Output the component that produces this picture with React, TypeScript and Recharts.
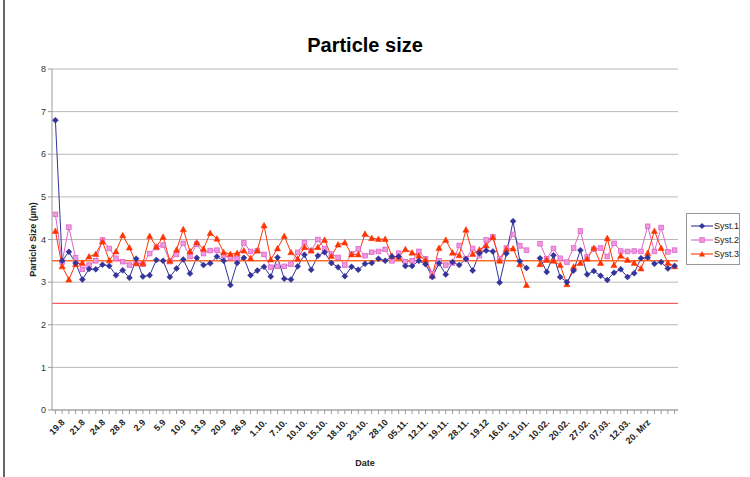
import React from "react";
import {
  LineChart,
  Line,
  XAxis,
  YAxis,
  CartesianGrid,
  ReferenceLine,
} from "recharts";

// labelled dates (every third measurement)
const dateLabels = [
  "19.8", "21.8", "24.8", "28.8", "2.9", "5.9", "10.9", "13.9", "20.9", "26.9",
  "1.10.", "7.10.", "10.10.", "15.10.", "18.10.", "23.10.", "28.10", "05.11.", "12.11.", "19.11.",
  "28.11.", "19.12", "16.01.", "31.01.", "10.02.", "20.02.", "27.02.", "07.03.", "12.03.", "20. Mrz",
];

const syst1 = [
  6.8, 3.5, 3.71, 3.45, 3.06, 3.31, 3.3, 3.41, 3.38, 3.16, 3.28, 3.1, 3.55, 3.13, 3.16, 3.52,
  3.5, 3.12, 3.32, 3.53, 3.2, 3.57, 3.4, 3.44, 3.6, 3.5, 2.93, 3.45, 3.57, 3.16, 3.27, 3.36,
  3.13, 3.58, 3.08, 3.06, 3.37, 3.64, 3.29, 3.62, 3.7, 3.45, 3.35, 3.14, 3.36, 3.29, 3.43, 3.45,
  3.55, 3.5, 3.6, 3.6, 3.38, 3.38, 3.5, 3.42, 3.12, 3.44, 3.18, 3.47, 3.4, 3.54, 3.27, 3.68,
  3.74, 3.72, 2.99, 3.67, 4.43, 3.49, 3.33, null, 3.56, 3.24, 3.63, 3.12, 3.0, 3.27, 3.75, 3.18,
  3.26, 3.15, 3.05, 3.22, 3.3, 3.12, 3.21, 3.56, 3.58, 3.43, 3.47, 3.32, 3.38,
];

const syst2 = [
  4.59, 3.47, 4.29, 3.57, 3.3, 3.4, 3.5, 3.99, 3.79, 3.56, 3.48, 3.4, 3.44, 3.42, 3.67, 3.81,
  3.87, 3.48, 3.65, 3.91, 3.6, 3.89, 3.67, 3.74, 3.75, 3.62, 3.58, 3.55, 3.92, 3.72, 3.74, 3.65,
  3.35, 3.37, 3.37, 3.42, 3.7, 3.93, 3.74, 4.0, 3.78, 3.66, 3.58, 3.4, 3.66, 3.78, 3.62, 3.7,
  3.72, 3.77, 3.5, 3.68, 3.48, 3.5, 3.72, 3.55, 3.2, 3.5, 3.4, 3.45, 3.86, 3.55, 3.79, 3.62,
  3.99, 4.06, 3.55, 3.8, 4.12, 3.85, 3.75, null, 3.9, 3.55, 3.79, 3.56, 3.47, 3.8, 4.2, 3.59,
  3.77, 3.8, 3.6, 3.91, 3.73, 3.72, 3.73, 3.72, 4.31, 3.72, 4.28, 3.71, 3.75,
];

const syst3 = [
  4.2, 3.37, 3.06, 3.42, 3.45, 3.6, 3.66, 3.95, 3.51, 3.72, 4.1, 3.81, 3.44, 3.44, 4.08, 3.83,
  4.06, 3.5, 3.76, 4.24, 3.72, 3.93, 3.78, 4.15, 4.02, 3.7, 3.66, 3.68, 3.74, 3.56, 3.74, 4.33,
  3.53, 3.79, 4.08, 3.7, 3.55, 3.82, 3.74, 3.82, 3.99, 3.61, 3.88, 3.93, 3.65, 3.65, 4.13, 4.03,
  4.01, 4.01, 3.61, 3.59, 3.77, 3.69, 3.62, 3.52, 3.15, 3.8, 3.99, 3.69, 3.63, 4.23, 3.66, 3.76,
  3.86, 4.05, 3.5, 3.77, 3.79, 3.42, 2.93, null, 3.42, 3.52, 3.5, 3.4, 2.95, 3.36, 3.45, 3.55,
  3.8, 3.45, 4.03, 3.4, 3.62, 3.52, 3.45, 3.32, 3.68, 4.2, 3.8, 3.45, 3.37,
];

const yTicks = [0, 1, 2, 3, 4, 5, 6, 7, 8];
const limitUpper = 3.5;
const limitLower = 2.5;

const C1 = "#333399";
const C2 = "#DD66CC";
const C3 = "#FF3300";

const rows = syst1.map((v, i) => ({ idx: i, s1: v, s2: syst2[i], s3: syst3[i] }));

const FONT = '"Liberation Sans", Arial, sans-serif';

const Diamond = (props: any) => {
  const { cx, cy, value, index } = props;
  if (value == null || cx == null || cy == null) return <g key={`d1-${index}`} />;
  const r = 3;
  return (
    <path
      key={`d1-${index}`}
      d={`M${cx},${cy - r}L${cx + r},${cy}L${cx},${cy + r}L${cx - r},${cy}Z`}
      fill={C1}
      stroke={C1}
      strokeWidth={0.5}
    />
  );
};

const Square = (props: any) => {
  const { cx, cy, value, index } = props;
  if (value == null || cx == null || cy == null) return <g key={`d2-${index}`} />;
  const r = 2.3;
  return (
    <rect key={`d2-${index}`} x={cx - r} y={cy - r} width={r * 2} height={r * 2} fill="#EE99DD" stroke={C2} strokeWidth={0.8} />
  );
};

const Triangle = (props: any) => {
  const { cx, cy, value, index } = props;
  if (value == null || cx == null || cy == null) return <g key={`d3-${index}`} />;
  const r = 3.1;
  return (
    <path
      key={`d3-${index}`}
      d={`M${cx},${cy - r}L${cx + r},${cy + r * 0.8}L${cx - r},${cy + r * 0.8}Z`}
      fill={C3}
      stroke={C3}
      strokeWidth={0.5}
    />
  );
};

const DateTick = (props: any) => {
  const { x, y, payload } = props;
  const i = Number(payload.value);
  if (i % 3 !== 0) return null;
  const label = dateLabels[i / 3];
  if (!label) return null;
  const ax = x + 10;
  const ay = y + 7;
  return (
    <text
      x={ax}
      y={ay}
      transform={`rotate(-45 ${ax} ${ay})`}
      textAnchor="end"
      fontSize={9}
      fontWeight="bold"
      fill="#222"
      fontFamily={FONT}
    >
      {label}
    </text>
  );
};

const legendItems = [
  { name: "Syst.1", color: C1, shape: "diamond" },
  { name: "Syst.2", color: C2, shape: "square" },
  { name: "Syst.3", color: C3, shape: "triangle" },
];

const LegendIcon = ({ color, shape }: { color: string; shape: string }) => (
  <svg width={24} height={10} style={{ display: "block" }}>
    <line x1={1} y1={5} x2={23} y2={5} stroke={color} strokeWidth={1.1} />
    {shape === "diamond" && <path d="M12,2L15,5L12,8L9,5Z" fill={color} />}
    {shape === "square" && <rect x={9.7} y={2.7} width={4.6} height={4.6} fill="#EE99DD" stroke={color} strokeWidth={0.8} />}
    {shape === "triangle" && <path d="M12,2L15,7.5L9,7.5Z" fill={color} />}
  </svg>
);

export default function App() {
  return (
    <div
      style={{
        position: "absolute",
        left: 0,
        top: 0,
        width: 750,
        height: 477,
        background: "#fff",
        fontFamily: FONT,
        overflow: "hidden",
      }}
    >
      <div style={{ position: "absolute", left: 3, top: 0, width: 1.5, height: 477, background: "#666" }} />
      <div
        style={{
          position: "absolute",
          left: 52,
          width: 626,
          top: 32,
          textAlign: "center",
          fontSize: 20,
          fontWeight: "bold",
          lineHeight: "26px",
          color: "#000",
        }}
      >
        Particle size
      </div>
      <LineChart width={750} height={477} data={rows} margin={{ top: 69, right: 72, bottom: 0, left: 0 }}>
        <CartesianGrid vertical={false} stroke="#b8b8b8" />
        <XAxis
          dataKey="idx"
          type="category"
          interval={0}
          height={67}
          tickSize={4}
          padding={{ left: 3.4, right: 3.4 }}
          tick={<DateTick />}
          axisLine={{ stroke: "#999" }}
          tickLine={{ stroke: "#999" }}
          label={{ value: "Date", position: "insideBottom", offset: 11, fontSize: 9, fontWeight: "bold", fill: "#222" }}
        />
        <YAxis
          domain={[0, 8]}
          ticks={yTicks}
          width={52}
          tickSize={4}
          axisLine={{ stroke: "#999" }}
          tickLine={{ stroke: "#999" }}
          tick={{ fontSize: 9, fill: "#333" }}
          label={{
            value: "Particle Size (µm)",
            angle: -90,
            position: "center",
            dx: 7,
            fontSize: 9,
            fontWeight: "bold",
            fill: "#222",
          }}
        />
        <YAxis
          yAxisId="frame"
          orientation="right"
          domain={[0, 8]}
          width={0}
          tick={false}
          tickLine={false}
          axisLine={{ stroke: "#999" }}
        />
        <ReferenceLine y={limitLower} stroke="#F46060" strokeWidth={1.2} />
        <Line
          dataKey="s2"
          name="Syst.2"
          stroke={C2}
          strokeWidth={1}
          dot={Square}
          activeDot={false}
          isAnimationActive={false}
        />
        <Line
          dataKey="s3"
          name="Syst.3"
          stroke={C3}
          strokeWidth={1}
          dot={Triangle}
          activeDot={false}
          isAnimationActive={false}
        />
        <Line
          dataKey="s1"
          name="Syst.1"
          stroke={C1}
          strokeWidth={1}
          dot={Diamond}
          activeDot={false}
          isAnimationActive={false}
        />
        <ReferenceLine y={limitUpper} stroke="#FF6A2A" strokeWidth={1.5} />
      </LineChart>
      <div
        style={{
          position: "absolute",
          left: 686,
          top: 213,
          width: 54,
          height: 52,
          border: "1px solid #999",
          boxSizing: "border-box",
          padding: "5px 0 0 3px",
        }}
      >
        {legendItems.map((it) => (
          <div key={it.name} style={{ display: "flex", alignItems: "center", height: 14 }}>
            <LegendIcon color={it.color} shape={it.shape} />
            <span style={{ fontSize: 9, color: "#222", marginLeft: 1 }}>{it.name}</span>
          </div>
        ))}
      </div>
    </div>
  );
}
